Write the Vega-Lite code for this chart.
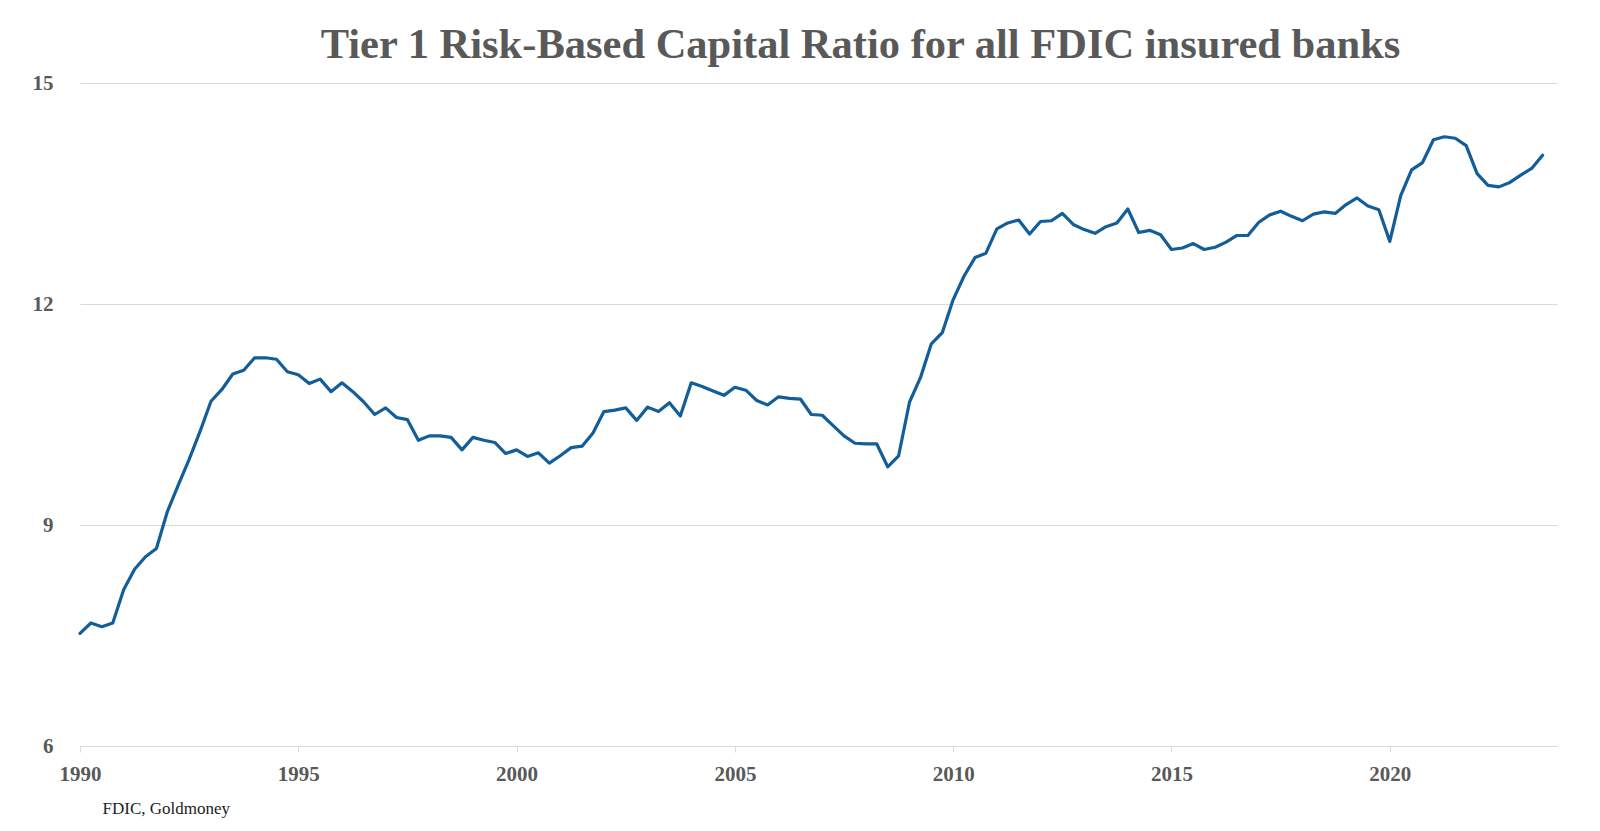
{
  "$schema": "https://vega.github.io/schema/vega-lite/v6.json",
  "autosize": {"type": "none"},
  "padding": {"left": 80, "top": 83, "right": 43, "bottom": 85},
  "width": 1477,
  "height": 663,
  "background": "white",
  "title": {
    "text": "Tier 1 Risk-Based Capital Ratio for all FDIC insured banks",
    "font": "Liberation Serif",
    "fontSize": 42.5,
    "fontWeight": "bold",
    "color": "#595959",
    "anchor": "middle",
    "frame": "group",
    "dx": 42,
    "dy": 46,
    "baseline": "alphabetic",
    "offset": 18
  },
  "config": {
    "view": {"stroke": null},
    "axis": {"labelFont": "Liberation Serif", "titleFont": "Liberation Serif"}
  },
  "data": {
    "values": [
      {"t": 1990.00, "v": 7.53}, {"t": 1990.25, "v": 7.67}, {"t": 1990.50, "v": 7.62}, {"t": 1990.75, "v": 7.67},
      {"t": 1991.00, "v": 8.12}, {"t": 1991.25, "v": 8.40}, {"t": 1991.50, "v": 8.57}, {"t": 1991.75, "v": 8.68},
      {"t": 1992.00, "v": 9.18}, {"t": 1992.25, "v": 9.54}, {"t": 1992.50, "v": 9.89}, {"t": 1992.75, "v": 10.27},
      {"t": 1993.00, "v": 10.68}, {"t": 1993.25, "v": 10.84}, {"t": 1993.50, "v": 11.05}, {"t": 1993.75, "v": 11.10},
      {"t": 1994.00, "v": 11.27}, {"t": 1994.25, "v": 11.27}, {"t": 1994.50, "v": 11.25}, {"t": 1994.75, "v": 11.08},
      {"t": 1995.00, "v": 11.04}, {"t": 1995.25, "v": 10.92}, {"t": 1995.50, "v": 10.98}, {"t": 1995.75, "v": 10.81},
      {"t": 1996.00, "v": 10.93}, {"t": 1996.25, "v": 10.81}, {"t": 1996.50, "v": 10.67}, {"t": 1996.75, "v": 10.50},
      {"t": 1997.00, "v": 10.59}, {"t": 1997.25, "v": 10.46}, {"t": 1997.50, "v": 10.43}, {"t": 1997.75, "v": 10.15},
      {"t": 1998.00, "v": 10.21}, {"t": 1998.25, "v": 10.21}, {"t": 1998.50, "v": 10.19}, {"t": 1998.75, "v": 10.02},
      {"t": 1999.00, "v": 10.19}, {"t": 1999.25, "v": 10.15}, {"t": 1999.50, "v": 10.12}, {"t": 1999.75, "v": 9.97},
      {"t": 2000.00, "v": 10.02}, {"t": 2000.25, "v": 9.93}, {"t": 2000.50, "v": 9.98}, {"t": 2000.75, "v": 9.84},
      {"t": 2001.00, "v": 9.94}, {"t": 2001.25, "v": 10.05}, {"t": 2001.50, "v": 10.07}, {"t": 2001.75, "v": 10.25},
      {"t": 2002.00, "v": 10.54}, {"t": 2002.25, "v": 10.56}, {"t": 2002.50, "v": 10.59}, {"t": 2002.75, "v": 10.42},
      {"t": 2003.00, "v": 10.60}, {"t": 2003.25, "v": 10.54}, {"t": 2003.50, "v": 10.66}, {"t": 2003.75, "v": 10.48},
      {"t": 2004.00, "v": 10.93}, {"t": 2004.25, "v": 10.88}, {"t": 2004.50, "v": 10.82}, {"t": 2004.75, "v": 10.76},
      {"t": 2005.00, "v": 10.87}, {"t": 2005.25, "v": 10.83}, {"t": 2005.50, "v": 10.69}, {"t": 2005.75, "v": 10.63},
      {"t": 2006.00, "v": 10.74}, {"t": 2006.25, "v": 10.72}, {"t": 2006.50, "v": 10.71}, {"t": 2006.75, "v": 10.50},
      {"t": 2007.00, "v": 10.49}, {"t": 2007.25, "v": 10.35}, {"t": 2007.50, "v": 10.21}, {"t": 2007.75, "v": 10.11},
      {"t": 2008.00, "v": 10.10}, {"t": 2008.25, "v": 10.10}, {"t": 2008.50, "v": 9.79}, {"t": 2008.75, "v": 9.94},
      {"t": 2009.00, "v": 10.67}, {"t": 2009.25, "v": 11.00}, {"t": 2009.50, "v": 11.46}, {"t": 2009.75, "v": 11.61},
      {"t": 2010.00, "v": 12.06}, {"t": 2010.25, "v": 12.38}, {"t": 2010.50, "v": 12.63}, {"t": 2010.75, "v": 12.69},
      {"t": 2011.00, "v": 13.02}, {"t": 2011.25, "v": 13.10}, {"t": 2011.50, "v": 13.14}, {"t": 2011.75, "v": 12.95},
      {"t": 2012.00, "v": 13.12}, {"t": 2012.25, "v": 13.13}, {"t": 2012.50, "v": 13.23}, {"t": 2012.75, "v": 13.08},
      {"t": 2013.00, "v": 13.01}, {"t": 2013.25, "v": 12.96}, {"t": 2013.50, "v": 13.05}, {"t": 2013.75, "v": 13.10},
      {"t": 2014.00, "v": 13.29}, {"t": 2014.25, "v": 12.97}, {"t": 2014.50, "v": 13.00}, {"t": 2014.75, "v": 12.94},
      {"t": 2015.00, "v": 12.74}, {"t": 2015.25, "v": 12.76}, {"t": 2015.50, "v": 12.82}, {"t": 2015.75, "v": 12.74},
      {"t": 2016.00, "v": 12.77}, {"t": 2016.25, "v": 12.84}, {"t": 2016.50, "v": 12.93}, {"t": 2016.75, "v": 12.93},
      {"t": 2017.00, "v": 13.11}, {"t": 2017.25, "v": 13.21}, {"t": 2017.50, "v": 13.26}, {"t": 2017.75, "v": 13.19},
      {"t": 2018.00, "v": 13.13}, {"t": 2018.25, "v": 13.22}, {"t": 2018.50, "v": 13.25}, {"t": 2018.75, "v": 13.23},
      {"t": 2019.00, "v": 13.35}, {"t": 2019.25, "v": 13.44}, {"t": 2019.50, "v": 13.33}, {"t": 2019.75, "v": 13.28},
      {"t": 2020.00, "v": 12.85}, {"t": 2020.25, "v": 13.47}, {"t": 2020.50, "v": 13.82}, {"t": 2020.75, "v": 13.92},
      {"t": 2021.00, "v": 14.23}, {"t": 2021.25, "v": 14.27}, {"t": 2021.50, "v": 14.25}, {"t": 2021.75, "v": 14.15},
      {"t": 2022.00, "v": 13.77}, {"t": 2022.25, "v": 13.61}, {"t": 2022.50, "v": 13.59}, {"t": 2022.75, "v": 13.65},
      {"t": 2023.00, "v": 13.75}, {"t": 2023.25, "v": 13.84}, {"t": 2023.50, "v": 14.02}
    ]
  },
  "mark": {"type": "line", "color": "#125E9A", "strokeWidth": 3.2, "strokeJoin": "round", "strokeCap": "round"},
  "encoding": {
    "x": {
      "field": "t",
      "type": "quantitative",
      "scale": {"domain": [1990, 2023.83], "nice": false, "zero": false},
      "axis": {
        "values": [1990, 1995, 2000, 2005, 2010, 2015, 2020],
        "format": "d",
        "grid": false,
        "domain": true,
        "domainColor": "#d9d9d9",
        "domainWidth": 1,
        "ticks": true,
        "tickColor": "#d9d9d9",
        "tickSize": 6,
        "labelFontSize": 21,
        "labelFontWeight": "bold",
        "labelColor": "#595959",
        "labelPadding": 11,
        "labelFlush": false,
        "title": "FDIC, Goldmoney",
        "titleFontSize": 17,
        "titleFontWeight": "normal",
        "titleColor": "#222222",
        "titleAnchor": "start",
        "titleAlign": "left",
        "titleBaseline": "alphabetic",
        "titleX": 22,
        "titleY": 67
      }
    },
    "y": {
      "field": "v",
      "type": "quantitative",
      "scale": {"domain": [6, 15], "nice": false, "zero": false},
      "axis": {
        "values": [6, 9, 12, 15],
        "grid": true,
        "gridColor": "#d9d9d9",
        "gridWidth": 1,
        "domain": false,
        "ticks": false,
        "labelFontSize": 21,
        "labelFontWeight": "bold",
        "labelColor": "#595959",
        "labelPadding": 27,
        "title": null
      }
    }
  }
}
